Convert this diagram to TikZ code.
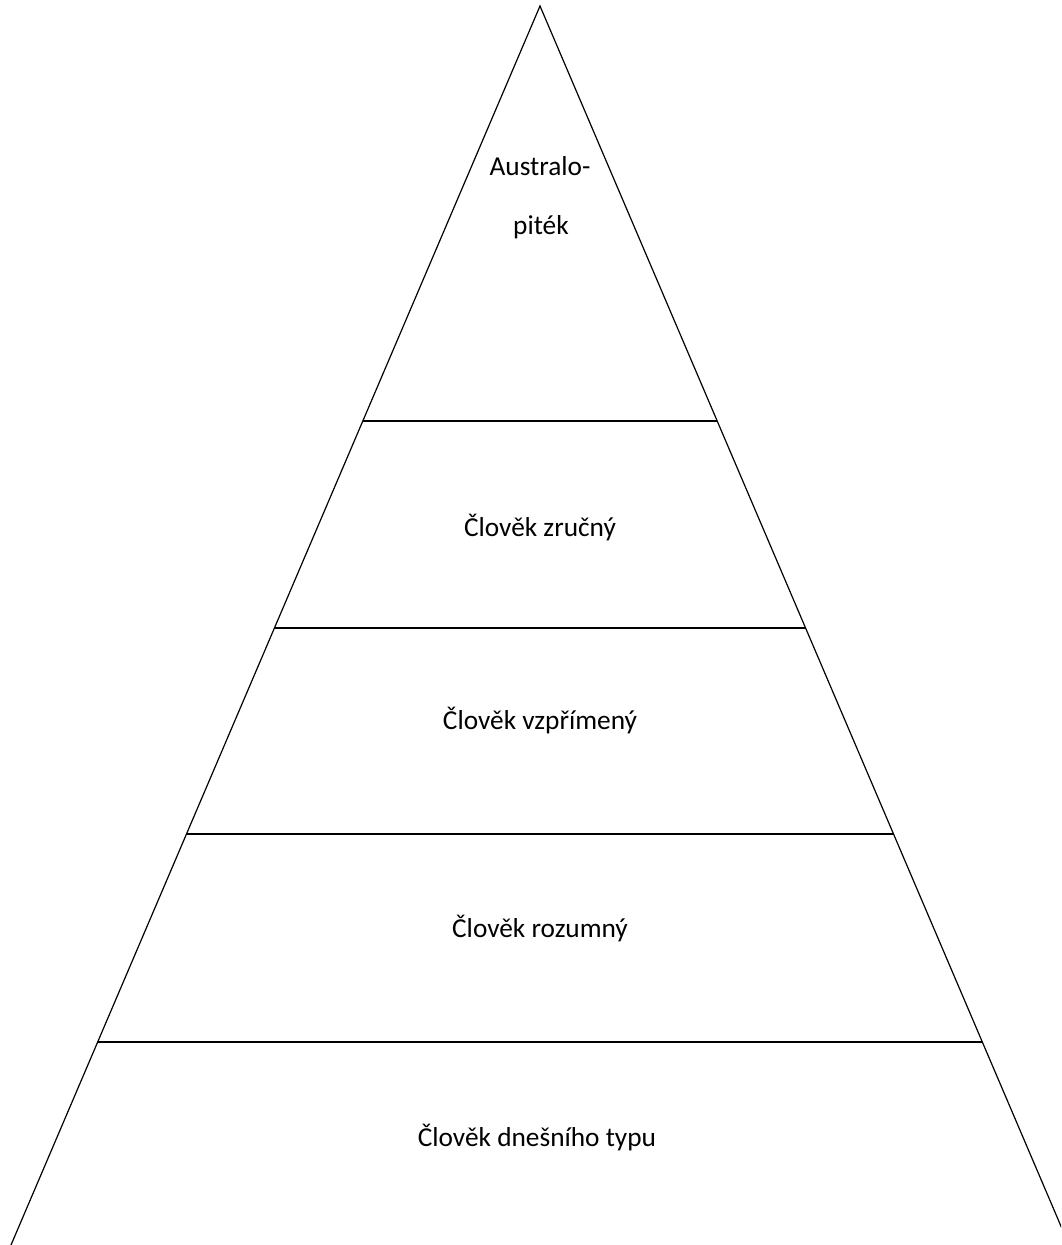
\documentclass[tikz,border=0pt]{standalone}
\usepackage{fontspec}
\setmainfont{Carlito}
\usetikzlibrary{calc}
\begin{document}
\begin{tikzpicture}[x=0.75pt,y=-0.75pt,
  edge/.style={draw=black,line width=0.9pt},
  lbl/.style={font=\fontsize{20.5}{24}\selectfont,inner sep=0pt,anchor=center}]
\useasboundingbox (0,0) rectangle (1061,1245);
\begin{scope}
\clip (0,0) rectangle (1061,1245);
\coordinate (apex) at (540,6);
\coordinate (bl) at (11,1245);
\coordinate (br) at (1069,1245);
\draw[edge] (bl) -- (apex) -- (br);
\foreach \y/\n in {421/a,628/b,834/c,1042/d}{
  \coordinate (L\n) at ($(apex)!{(\y-6)/1239}!(bl)$);
  \coordinate (R\n) at ($(apex)!{(\y-6)/1239}!(br)$);
  \draw[edge] (L\n) -- (R\n);
}
\end{scope}
\node[lbl] (t1a) at (540,166) {Australo-};
\node[lbl] (t1b) at (541,227) {piték};
\node[lbl] (t2) at (540,528) {Člověk zručný};
\node[lbl] (t3) at (540,721) {Člověk vzpřímený};
\node[lbl] (t4) at (540,929) {Člověk rozumný};
\node[lbl] (t5) at (537,1138) {Člověk dnešního typu};
\end{tikzpicture}
\end{document}
